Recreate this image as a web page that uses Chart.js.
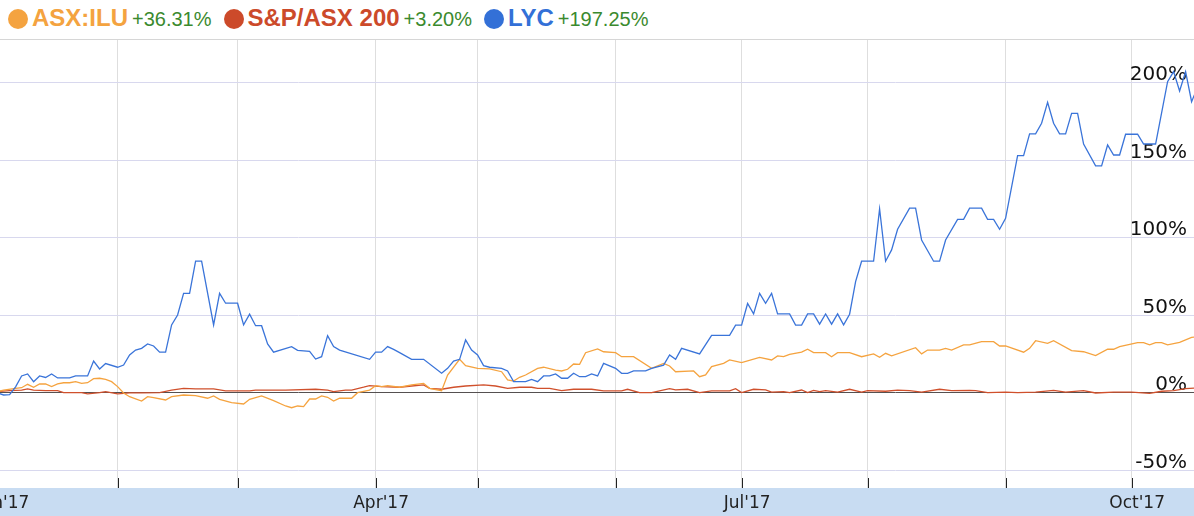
<!DOCTYPE html>
<html>
<head>
<meta charset="utf-8">
<script src="https://cdn.jsdelivr.net/npm/chart.js@4"></script>
<style>
  body { margin: 0; background: #fff; overflow: hidden; }
  #legend {
    position: absolute; left: 0; top: 0; width: 1194px; height: 39px;
    border-bottom: 1px solid #d6d6d6; box-sizing: content-box;
  }
  #legend .row {
    position: absolute; left: 8px; top: 3px; white-space: nowrap;
    font-family: "Liberation Sans", Arial, sans-serif; font-size: 24px; line-height: 30px;
  }
  .dot { display: inline-block; width: 20px; height: 20px; border-radius: 50%; vertical-align: -3px; margin-right: 4px; }
  .nm { font-weight: bold; margin-right: 4px; }
  .pc { font-size: 20px; color: #3b8a2e; margin-right: 12px; }
  #wrap { position: absolute; left: 0; top: 40px; width: 1194px; height: 476px; }
</style>
</head>
<body>
<div id="legend"><div class="row" id="legendRow"></div></div>
<div id="wrap"><canvas id="chart"></canvas></div>
<script>
// Series info
const seriesNames = ['ASX:ILU', 'S&P/ASX 200', 'LYC'];
const seriesChange = ['+36.31%', '+3.20%', '+197.25%'];
const seriesColors = ['#f4a340', '#cc4a2a', '#3370d7'];

// x = trading day index from 3 Jan 2017, y = % change
const iluDays = [0,1,3,4,5,6,7,8,9,10,11,12,13,14,15,16,17,18,19,20,21,22,24,25,26,28,29,31,33,35,36,37,39,41,42,44,46,48,49,50,51,52,53,54,55,56,57,59,60,62,63,64,65,67,69,71,72,74,75,77,78,80,82,84,85,86,87,88,90,91,93,94,95,96,97,98,100,101,103,104,106,109,111,112,113,116,117,118,119,121,122,124,127,129,130,131,132,134,135,136,138,139,140,142,144,146,147,148,149,153,154,155,157,158,159,161,162,164,166,167,168,171,172,173,175,176,179,181,183,185,186,187,190,191,192,193,194,195,197,199,200];
const iluValues = [0.9,1.9,3,3.4,5.6,3.7,5.8,5.8,4.1,5.8,6.6,6.6,7.3,6.2,6.6,9.2,9.5,8.8,7.3,4.1,0,-2.4,-5.2,-2.4,-3,-4.5,-2.4,-1.3,-1.7,-3.4,-1.9,-4.1,-6.2,-7.1,-4.1,-1.9,-4.9,-8.4,-9.5,-8.4,-8.8,-3.9,-3.9,-1.9,-2.8,-5.2,-3.4,-3.4,0.2,1.9,4.7,4.1,4.7,3.7,5.2,6.2,3,1.5,11.6,21.7,17.6,15.9,15.5,13.7,8.4,7.7,10.1,11.6,15.9,16.6,14.8,14.2,15.3,18.7,18.5,26,28.4,26.6,26,23.4,23.4,15.9,19.1,17.4,13.7,14.2,10.5,11.6,17,19.1,21.3,19.6,23,21.3,23.9,23.4,24.9,26.3,28.2,26,26,23.4,26,26,23.4,25.2,23,25.6,23.9,29.2,25.2,27.7,27.7,28.8,27.7,31,31,33.1,33.1,30.3,30.3,26.3,28.8,33.7,32,33.7,27.3,26.6,24.1,28.2,28.2,29.9,32.5,32.5,31,32.5,32.5,31,32.7,35.9,36.31];

const asxDays = [0,2,4,5,6,8,10,11,14,15,17,18,20,22,24,27,29,31,33,36,38,42,43,48,53,55,56,58,59,61,62,64,67,69,71,72,74,76,78,81,83,85,87,89,90,92,94,96,99,101,104,105,107,109,112,113,115,117,119,122,123,124,126,128,129,131,132,134,135,136,137,138,140,142,144,145,148,150,152,154,157,159,162,163,165,168,170,173,176,178,181,183,186,189,192,194,196,198,200];
const asxValues = [0.9,1.5,1.9,2.6,1.9,1.5,1.5,0.2,0.2,-0.6,0.2,0.9,-0.6,0,0,0.2,1.9,3,2.6,2.6,1.3,1.3,1.9,1.9,2.4,1.9,0.9,1.9,1.9,3.7,4.7,4.1,3.7,4.5,5.2,3,2.4,3.7,4.5,5.2,4.5,3,3.7,3.7,3,3,1.5,2.4,2.4,1.3,1.3,2.4,0.2,0.2,2.8,2,2.4,0.2,1.3,1.3,2.8,0.2,2.4,2,0.6,0.9,0.2,1.9,0.2,1.7,0.9,1.5,0.6,2.4,0.6,1.5,1.1,1.9,1.5,0.6,2.4,1.5,1.7,1.5,0.2,0.6,0.2,0.6,1.7,0.6,1.5,0,0.6,0.6,-0.2,1.1,1.5,2.8,3.2];

const lycDays = [0,1,2,3,4,5,6,7,8,9,10,12,13,15,16,17,18,20,21,22,23,24,25,26,27,28,29,30,31,32,33,34,36,37,38,40,41,42,43,44,45,46,49,50,52,53,54,55,56,57,62,63,64,65,66,67,69,71,74,75,76,77,78,79,80,81,82,84,85,86,88,89,90,91,92,93,94,95,96,97,98,99,100,101,103,104,105,106,108,109,111,112,113,114,117,119,122,123,124,125,126,127,128,129,130,132,133,134,135,136,137,138,139,140,141,142,143,144,146,147,148,149,150,152,153,154,156,157,158,160,161,162,164,165,166,167,168,170,171,172,173,174,175,176,177,178,179,180,181,183,184,185,186,187,188,190,191,193,195,196,197,198,199,200];
const lycValues = [0,-1.3,-1,4,11,12.3,7.3,11,10,12.3,9.7,9.7,11,11,20.6,15.5,19,16.6,18,24.5,27.7,28.8,31.6,30.3,26.3,26.3,43.9,50.3,64.3,64.3,85,85,43.9,64.3,57.9,57.9,43.9,50.8,43.4,43.4,31.6,26.3,29.9,27.5,26.9,21.9,23.4,37,29.9,27.7,21.7,26.3,26.3,29.9,28.1,26,21.7,21.7,12.7,15.9,20.6,21.7,34.2,27.7,24.5,17.6,16.6,15.9,14.2,7.3,7.3,8.8,7.3,11,11,12.3,9.5,9.5,12.7,10.5,10.5,12.3,11,19.1,15.9,12.7,12.7,14.2,14.2,15.9,18,24.5,21.7,28.8,25.2,37.2,37.2,43.8,43.8,57.7,51,64.3,57.9,64.3,51,51,43.8,43.8,51,51,44.4,51,44.4,51,43.9,50.8,71.8,85,85,118.7,85,92.3,105.6,119.2,119.2,98.7,85,85,98.7,112,112,119.2,119.2,112,112,105.6,112.7,153.1,153.1,167.1,167.1,174,187.5,174,167.1,167.1,180.4,180.4,160.6,146.5,146.5,160,153.5,153.5,166.9,166.9,160.6,160.6,200.8,207.3,194.8,207.3,187.9,197.25];

// Month starts (trading day index) and axis labels
const monthTicks = [0, 20, 40, 63, 80, 103, 124, 145, 168, 189];
const monthLabels = ["Jan'17", '', '', "Apr'17", '', '', "Jul'17", '', '', "Oct'17"];
const yTicks = [-50, 0, 50, 100, 150, 200];

// Legend
const legendRow = document.getElementById('legendRow');
seriesNames.forEach((name, i) => {
    const dot = document.createElement('span');
    dot.className = 'dot';
    dot.style.background = seriesColors[i];
    const nm = document.createElement('span');
    nm.className = 'nm';
    nm.style.color = seriesColors[i];
    nm.textContent = name;
    const pc = document.createElement('span');
    pc.className = 'pc';
    pc.textContent = seriesChange[i];
    legendRow.append(dot, nm, pc);
});

function toPoints(days, values) {
    return days.map((d, i) => ({ x: d, y: values[i] }));
}

const lineColors = ['#f5a33f', '#d0502c', '#3a74d9'];

// Bottom band + inner tick marks
const axisBand = {
    id: 'axisBand',
    beforeDraw(chart) {
        const { ctx, chartArea, width, height } = chart;
        ctx.save();
        ctx.fillStyle = '#c8dcf2';
        ctx.fillRect(0, chartArea.bottom, width, height - chartArea.bottom);
        ctx.restore();
    },
    afterDraw(chart) {
        const { ctx, chartArea, scales } = chart;
        ctx.save();
        ctx.strokeStyle = '#222';
        ctx.lineWidth = 1;
        monthTicks.forEach(v => {
            const x = Math.round(scales.x.getPixelForValue(v)) + 0.5;
            ctx.beginPath();
            ctx.moveTo(x, chartArea.bottom - 10);
            ctx.lineTo(x, chartArea.bottom);
            ctx.stroke();
        });
        ctx.restore();
    }
};

new Chart(document.getElementById('chart'), {
    type: 'line',
    data: {
        datasets: [
            { label: seriesNames[2], data: toPoints(lycDays, lycValues), borderColor: lineColors[2], order: 1 },
            { label: seriesNames[0], data: toPoints(iluDays, iluValues), borderColor: lineColors[0], order: 2 },
            { label: seriesNames[1], data: toPoints(asxDays, asxValues), borderColor: lineColors[1], order: 3 }
        ].map(ds => Object.assign(ds, { borderWidth: 1.3, pointRadius: 0, tension: 0, fill: false }))
    },
    options: {
        responsive: true,
        maintainAspectRatio: false,
        animation: false,
        layout: { padding: 0 },
        plugins: { legend: { display: false }, tooltip: { enabled: false } },
        scales: {
            x: {
                type: 'linear',
                min: 0.4,
                max: 199.4,
                afterBuildTicks: axis => { axis.ticks = monthTicks.map(v => ({ value: v })); },
                afterFit: axis => { axis.height = 28; axis.paddingLeft = 0; axis.paddingRight = 0; },
                border: { display: false },
                grid: { color: '#dedede', drawTicks: false },
                ticks: {
                    autoSkip: false, maxRotation: 0, padding: 5, labelOffset: 5.5,
                    color: '#222', font: { family: 'DejaVu Sans', size: 17 },
                    callback: (v, i) => monthLabels[i]
                }
            },
            y: {
                position: 'right',
                min: -61.3,
                max: 227.7,
                afterBuildTicks: axis => { axis.ticks = yTicks.map(v => ({ value: v })); },
                afterFit: axis => { axis.width = 0; axis.paddingTop = 0; axis.paddingBottom = 0; },
                border: { display: false },
                grid: {
                    drawTicks: false,
                    color: ctx => ctx.tick.value === 0 ? '#555050' : '#d8d8ee'
                },
                ticks: {
                    mirror: true, padding: -7, labelOffset: -8,
                    color: '#111', font: { family: 'DejaVu Sans', size: 20 },
                    callback: v => v + '%'
                }
            }
        }
    },
    plugins: [axisBand]
});
</script>
</body>
</html>
